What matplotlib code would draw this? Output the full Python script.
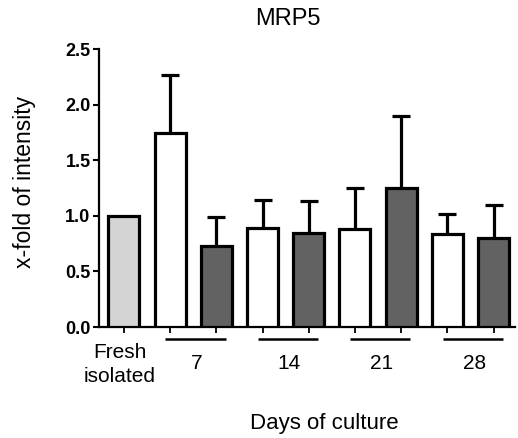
import numpy as np
import matplotlib
matplotlib.use("Agg")
import matplotlib.pyplot as plt

plt.rcParams['font.family'] = ['Liberation Sans', 'DejaVu Sans']

# Bar heights (x-fold of intensity) and upper SD
conditions = ["Fresh isolated", "7a", "7b", "14a", "14b", "21a", "21b", "28a", "28b"]
means = [1.00, 1.75, 0.73, 0.89, 0.85, 0.88, 1.25, 0.84, 0.80]
upper_err = [0.0, 0.52, 0.26, 0.25, 0.28, 0.37, 0.65, 0.18, 0.30]
fill_colors = ["#d4d4d4", "white", "#626262", "white", "#626262",
               "white", "#626262", "white", "#626262"]
group_labels = ["7", "14", "21", "28"]

fig = plt.figure(figsize=(5.18, 4.38), dpi=100)
ax = fig.add_axes([0.191, 0.2534, 0.803, 0.634])

x = np.arange(len(means))
ax.bar(x, means, width=0.67, color=fill_colors, edgecolor="black",
       linewidth=2.3, zorder=3)

# upward-only error bars (skip the reference bar)
xe = x[1:]
me = np.array(means[1:])
ue = np.array(upper_err[1:])
eb = ax.errorbar(xe, me, yerr=[np.zeros_like(ue), ue], fmt="none",
                 ecolor="black", elinewidth=2.3, capsize=6.5, capthick=2.3,
                 zorder=2)
eb[1][0].set_visible(False)

ax.set_ylim(0, 2.5)
ax.set_xlim(-0.54, 8.46)
ax.set_yticks([0, 0.5, 1.0, 1.5, 2.0, 2.5])
ax.set_yticklabels(["0.0", "0.5", "1.0", "1.5", "2.0", "2.5"],
                   fontweight="bold", fontsize=13)
ax.set_xticks(x)
ax.set_xticklabels([])
ax.tick_params(axis="y", length=4, width=1.5, pad=2)
ax.tick_params(axis="x", length=4, width=1.3, direction="out")
for s in ("top", "right"):
    ax.spines[s].set_visible(False)
for s in ("left", "bottom"):
    ax.spines[s].set_linewidth(1.6)

trans = ax.get_xaxis_transform()
ax.text(-0.09, -0.09, "Fresh", transform=trans, ha="center", va="center",
        fontsize=15)
ax.text(-0.09, -0.18, "isolated", transform=trans, ha="center", va="center",
        fontsize=15)
for i, lab in enumerate(group_labels):
    c1 = 1 + 2 * i
    c2 = c1 + 1
    ax.plot([c1 - 0.1, c2 + 0.2], [-0.043, -0.043], transform=trans,
            color="black", linewidth=1.8, clip_on=False, solid_capstyle="butt")
    ax.text((c1 + c2) / 2 + 0.08, -0.13, lab, transform=trans,
            ha="center", va="center", fontsize=15)

fig.text(0.556, 0.957, "MRP5", ha="center", va="center", fontsize=17)
fig.text(0.627, 0.034, "Days of culture", ha="center", va="center",
         fontsize=16)
fig.text(0.048, 0.585, "x-fold of intensity", ha="center", va="center",
         rotation=90, fontsize=16.5)

fig.savefig("out.png", dpi=100)
